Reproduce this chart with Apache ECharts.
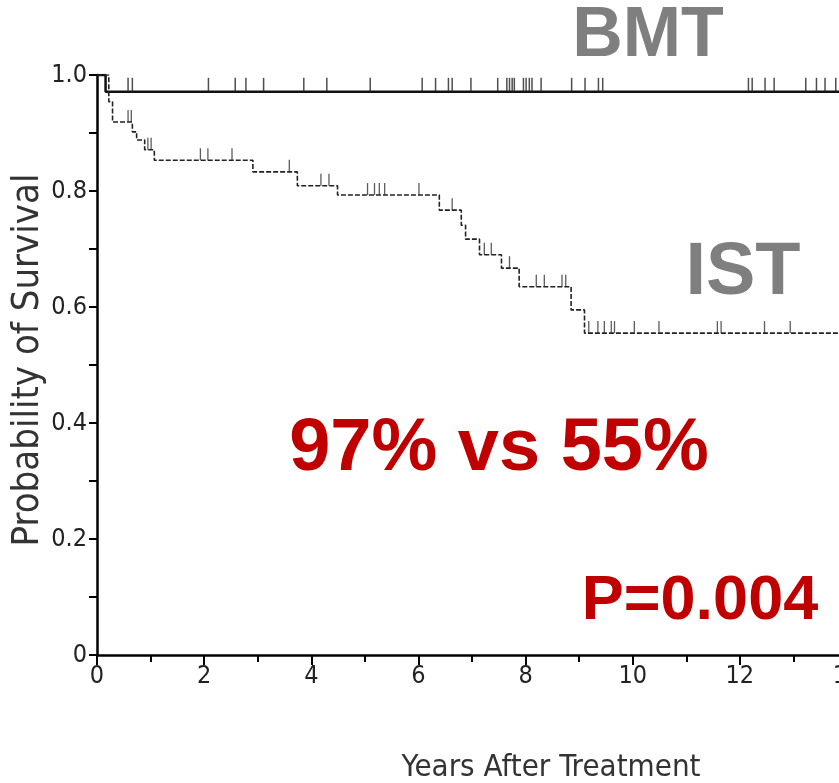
<!DOCTYPE html>
<html>
<head>
<meta charset="utf-8">
<script src="https://cdn.jsdelivr.net/npm/echarts@6/dist/echarts.min.js"></script>
<style>
html,body{margin:0;padding:0;background:#fff;}
#chart{width:839px;height:783px;}
</style>
</head>
<body>
<div id="chart"></div>
<script>
// Kaplan-Meier step data (years, survival probability)
var bmtTimes = [0, 0.16, 14];
var bmtSurv  = [1.0, 0.971, 0.971];
var istTimes = [0, 0.22, 0.29, 0.66, 0.74, 0.89, 1.07, 2.91, 3.74, 4.49, 6.39, 6.80, 6.88, 7.14, 7.55, 7.88, 8.85, 9.10, 14];
var istSurv  = [1.0, 0.954, 0.919, 0.902, 0.888, 0.871, 0.853, 0.833, 0.809, 0.793, 0.767, 0.741, 0.717, 0.690, 0.667, 0.635, 0.595, 0.555, 0.555];
// censoring marks (years)
var bmtCensor = [0.58, 0.66, 2.08, 2.58, 2.78, 3.11, 3.86, 4.29, 5.10, 6.07, 6.32, 6.56, 6.63, 6.98, 7.48, 7.65, 7.70, 7.75, 7.79, 7.96, 8.01, 8.07, 8.12, 8.29, 8.86, 9.11, 9.36, 9.44, 12.16, 12.23, 12.47, 12.64, 13.23, 13.43, 13.59, 13.79];
var istCensor = [0.58, 0.64, 0.95, 1.01, 1.93, 2.07, 2.52, 3.59, 4.18, 4.33, 5.05, 5.18, 5.27, 5.37, 6.01, 6.63, 7.23, 7.36, 7.70, 8.20, 8.35, 8.68, 8.75, 9.18, 9.35, 9.47, 9.60, 9.66, 10.03, 10.49, 11.58, 11.65, 12.46, 12.94];
var xTickLabels = ['0', '2', '4', '6', '8', '10', '12', '14'];
var yTickLabels = ['0', '0.2', '0.4', '0.6', '0.8', '1.0'];
var xTitle = 'Years After Treatment';
var yTitle = 'Probability of Survival';

function stepValue(times, surv, t) {
  var v = surv[0];
  for (var i = 0; i < times.length; i++) { if (times[i] <= t) v = surv[i]; }
  return v;
}
function pairs(a, b) { return a.map(function (x, i) { return [x, b[i]]; }); }
function censorPts(c, times, surv) { return c.map(function (t) { return [t, stepValue(times, surv, t)]; }); }

var axisFont = "'Liberation Sans Narrow','DejaVu Sans Condensed','Liberation Sans',sans-serif";
var chart = echarts.init(document.getElementById('chart'));
chart.setOption({
  animation: false,
  backgroundColor: '#fff',
  grid: { left: 97, right: -8, top: 75, bottom: 128, containLabel: false, outerBoundsMode: 'none' },
  xAxis: {
    type: 'value', min: 0, max: 14, interval: 2,
    axisLine: { lineStyle: { color: '#000', width: 2.5 } },
    axisTick: { show: true, length: 10, lineStyle: { color: '#000', width: 2 } },
    minorTick: { show: true, splitNumber: 2, length: 7, lineStyle: { color: '#000', width: 2 } },
    splitLine: { show: false },
    axisLabel: { margin: 9, fontSize: 25, color: '#222', fontFamily: axisFont, hideOverlap: false, showMaxLabel: true,
      formatter: function (v) { return xTickLabels[Math.round(v / 2)]; } }
  },
  yAxis: {
    type: 'value', min: 0, max: 1, interval: 0.2,
    axisLine: { show: true, lineStyle: { color: '#000', width: 2.5 } },
    axisTick: { show: true, length: 8, lineStyle: { color: '#000', width: 2 } },
    minorTick: { show: true, splitNumber: 2, length: 8, lineStyle: { color: '#000', width: 2 } },
    splitLine: { show: false },
    axisLabel: { margin: 10, fontSize: 25, color: '#222', fontFamily: axisFont,
      formatter: function (v) { return yTickLabels[Math.round(v * 5)]; } }
  },
  series: [
    { name: 'BMT', type: 'line', step: 'end', symbol: 'none', data: pairs(bmtTimes, bmtSurv),
      lineStyle: { color: '#111', width: 2.5 }, z: 3 },
    { name: 'IST', type: 'line', step: 'end', symbol: 'none', data: pairs(istTimes, istSurv),
      lineStyle: { color: '#222', width: 1.6, type: [5, 2] }, z: 3 },
    { name: 'BMT censored', type: 'scatter', data: censorPts(bmtCensor, bmtTimes, bmtSurv),
      symbol: 'rect', symbolSize: [1.5, 14], symbolOffset: [0, -7], itemStyle: { color: '#222' }, z: 4 },
    { name: 'IST censored', type: 'scatter', data: censorPts(istCensor, istTimes, istSurv),
      symbol: 'rect', symbolSize: [1.3, 12], symbolOffset: [0, -6], itemStyle: { color: '#333' }, z: 4 }
  ],
  graphic: [
    { type: 'text', x: 28, y: 360, rotation: Math.PI / 2, style: { text: yTitle, fill: '#333', font: "38px " + axisFont, textAlign: 'center', textVerticalAlign: 'middle' } },
    { type: 'text', x: 551, y: 768, style: { text: xTitle, fill: '#333', font: "31px " + axisFont, textAlign: 'center', textVerticalAlign: 'middle' } },
    { type: 'text', x: 648, y: 37, style: { text: 'BMT', fill: '#7f7f7f', font: "bold 70px 'Liberation Sans', Arial, sans-serif", textAlign: 'center', textVerticalAlign: 'middle' } },
    { type: 'text', x: 743, y: 274, style: { text: 'IST', fill: '#7f7f7f', font: "bold 74px 'Liberation Sans', Arial, sans-serif", textAlign: 'center', textVerticalAlign: 'middle' } },
    { type: 'text', x: 499, y: 450, style: { text: '97% vs 55%', fill: '#c00000', font: "bold 74px 'Liberation Sans', Arial, sans-serif", textAlign: 'center', textVerticalAlign: 'middle' } },
    { type: 'text', x: 700, y: 602, style: { text: 'P=0.004', fill: '#c00000', font: "bold 63px 'Liberation Sans', Arial, sans-serif", textAlign: 'center', textVerticalAlign: 'middle' } }
  ]
});
</script>
</body>
</html>
